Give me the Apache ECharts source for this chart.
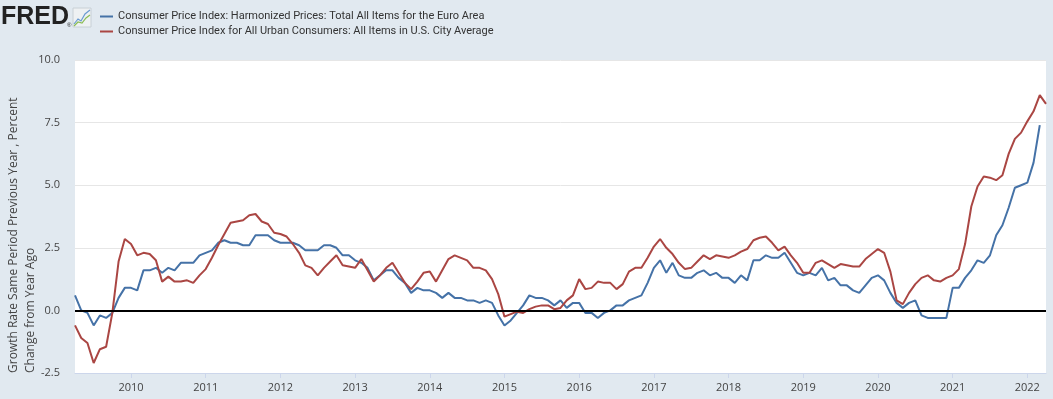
<!DOCTYPE html>
<html>
<head>
<meta charset="utf-8">
<script src="https://cdn.jsdelivr.net/npm/echarts@6/dist/echarts.min.js"></script>
<style>
  html, body { margin: 0; padding: 0; background: #e1e9f0; }
  #main { width: 1053px; height: 399px; }
</style>
</head>
<body>
<div id="main"></div>
<script>
// monthly data, first value = April 2009
var startYear = 2009
var startMonth = 4

// HICP euro area, % change from year ago
var euroArea = [
  0.6, 0.0, -0.1, -0.6, -0.2, -0.3, -0.1, 0.5, 0.9,
  0.9, 0.8, 1.6, 1.6, 1.7, 1.5, 1.7, 1.6, 1.9, 1.9, 1.9, 2.2,
  2.3, 2.4, 2.7, 2.8, 2.7, 2.7, 2.6, 2.6, 3.0, 3.0, 3.0, 2.8,
  2.7, 2.7, 2.7, 2.6, 2.4, 2.4, 2.4, 2.6, 2.6, 2.5, 2.2, 2.2,
  2.0, 1.9, 1.7, 1.2, 1.4, 1.6, 1.6, 1.3, 1.1, 0.7, 0.9, 0.8,
  0.8, 0.7, 0.5, 0.7, 0.5, 0.5, 0.4, 0.4, 0.3, 0.4, 0.3, -0.2,
  -0.6, -0.4, -0.1, 0.2, 0.6, 0.5, 0.5, 0.4, 0.2, 0.4, 0.1, 0.3,
  0.3, -0.1, -0.1, -0.3, -0.1, 0.0, 0.2, 0.2, 0.4, 0.5, 0.6, 1.1,
  1.7, 2.0, 1.5, 1.9, 1.4, 1.3, 1.3, 1.5, 1.6, 1.4, 1.5, 1.3,
  1.3, 1.1, 1.4, 1.2, 2.0, 2.0, 2.2, 2.1, 2.1, 2.3, 1.9, 1.5,
  1.4, 1.5, 1.4, 1.7, 1.2, 1.3, 1.0, 1.0, 0.8, 0.7, 1.0, 1.3,
  1.4, 1.2, 0.7, 0.3, 0.1, 0.3, 0.4, -0.2, -0.3, -0.3, -0.3, -0.3,
  0.9, 0.9, 1.3, 1.6, 2.0, 1.9, 2.2, 3.0, 3.4, 4.1, 4.9, 5.0,
  5.1, 5.9, 7.4
]

// CPI-U U.S. city average, % change from year ago
var usCityAvg = [
  -0.6, -1.1, -1.3, -2.1, -1.55, -1.45, -0.1, 1.95, 2.85,
  2.65, 2.2, 2.3, 2.25, 2.0, 1.15, 1.35, 1.15, 1.15, 1.2, 1.1, 1.4,
  1.65, 2.1, 2.6, 3.05, 3.5, 3.55, 3.6, 3.8, 3.85, 3.55, 3.45, 3.1,
  3.05, 2.95, 2.65, 2.3, 1.8, 1.7, 1.4, 1.7, 1.95, 2.2, 1.8, 1.75,
  1.7, 2.05, 1.6, 1.15, 1.4, 1.7, 1.9, 1.5, 1.1, 0.85, 1.15, 1.5,
  1.55, 1.15, 1.6, 2.05, 2.2, 2.1, 2.0, 1.7, 1.7, 1.6, 1.25, 0.65,
  -0.25, -0.15, -0.05, -0.1, 0.05, 0.15, 0.2, 0.2, 0.05, 0.1, 0.4, 0.6,
  1.25, 0.85, 0.9, 1.15, 1.1, 1.1, 0.85, 1.05, 1.55, 1.7, 1.7, 2.1,
  2.55, 2.85, 2.5, 2.25, 1.9, 1.65, 1.7, 1.95, 2.2, 2.05, 2.2, 2.15,
  2.1, 2.2, 2.35, 2.45, 2.8, 2.9, 2.95, 2.7, 2.4, 2.55, 2.2, 1.9,
  1.5, 1.5, 1.9, 2.0, 1.85, 1.7, 1.85, 1.8, 1.75, 1.75, 2.05, 2.25,
  2.45, 2.3, 1.55, 0.4, 0.25, 0.7, 1.05, 1.3, 1.4, 1.2, 1.15, 1.3,
  1.4, 1.65, 2.65, 4.15, 4.95, 5.35, 5.3, 5.2, 5.4, 6.25, 6.85, 7.1,
  7.55, 7.95, 8.6, 8.25
]

var yearTicks = [2010, 2011, 2012, 2013, 2014, 2015, 2016, 2017, 2018, 2019, 2020, 2021, 2022]

function toPairs(vals) {
  return vals.map(function (v, i) {
    return [startYear + (startMonth - 1 + i) / 12, v]
  })
}

var chart = echarts.init(document.getElementById('main'))
chart.setOption({
  animation: false,
  backgroundColor: '#e1e9f0',
  textStyle: { fontFamily: 'Open Sans' },
  legend: {
    orient: 'vertical',
    left: 100,
    top: 11,
    padding: 0,
    icon: 'rect',
    itemWidth: 13,
    itemHeight: 2,
    itemGap: 4,
    textStyle: { fontSize: 11, color: '#333', fontFamily: 'Roboto' },
    data: [
      'Consumer Price Index: Harmonized Prices: Total All Items for the Euro Area',
      'Consumer Price Index for All Urban Consumers: All Items in U.S. City Average'
    ]
  },
  graphic: [
    { type: 'text', left: 1, top: 5, style: { text: 'FRED', font: 'bold 25px "Liberation Sans"', fill: '#222' } },
    { type: 'text', left: 67, top: 22, style: { text: '®', font: '6px "Liberation Sans"', fill: '#222' } },
    { type: 'rect', shape: { x: 73, y: 8, width: 18, height: 19 }, style: { fill: '#eef1f3', stroke: '#c8d0d6', lineWidth: 1 } },
    { type: 'polyline', shape: { points: [[74, 24], [78, 19], [81, 21], [85, 14], [90, 10]] }, style: { stroke: '#6b9bd1', lineWidth: 1.2, fill: null } },
    { type: 'polyline', shape: { points: [[74, 26], [78, 22], [82, 23], [86, 18], [90, 15]] }, style: { stroke: '#8bbd54', lineWidth: 1.2, fill: null } },
    { type: 'text', x: 14, y: 373, rotation: Math.PI / 2,
      style: { text: 'Growth Rate Same Period Previous Year , Percent', font: '12px "Open Sans"', fill: '#444', align: 'left', verticalAlign: 'middle' } },
    { type: 'text', x: 31, y: 373, rotation: Math.PI / 2,
      style: { text: 'Change from Year Ago', font: '12px "Open Sans"', fill: '#444', align: 'left', verticalAlign: 'middle' } }
  ],
  grid: {
    show: true,
    backgroundColor: '#fff',
    borderWidth: 0,
    left: 75,
    right: 7,
    top: 60,
    bottom: 26
  },
  xAxis: {
    type: 'value',
    min: 2009.25,
    max: 2022.25,
    axisLine: { onZero: false, lineStyle: { color: '#ccd6eb', width: 1 } },
    axisTick: { customValues: yearTicks, length: 5, lineStyle: { color: '#ccd6eb' } },
    axisLabel: {
      customValues: yearTicks,
      margin: 9,
      fontSize: 11,
      color: '#444',
      formatter: function (v) { return String(Math.round(v)) }
    },
    splitLine: { show: false }
  },
  yAxis: {
    type: 'value',
    min: -2.5,
    max: 10,
    interval: 2.5,
    axisLine: { show: false },
    axisTick: { show: false },
    axisLabel: {
      margin: 15,
      fontSize: 11,
      color: '#444',
      formatter: function (v) { return v.toFixed(1) }
    },
    splitLine: { lineStyle: { color: '#e6e6e6', width: 1 } }
  },
  series: [
    {
      name: 'Consumer Price Index: Harmonized Prices: Total All Items for the Euro Area',
      type: 'line',
      data: toPairs(euroArea),
      showSymbol: false,
      color: '#4572a7',
      lineStyle: { width: 2, color: '#4572a7' }
    },
    {
      name: 'Consumer Price Index for All Urban Consumers: All Items in U.S. City Average',
      type: 'line',
      data: toPairs(usCityAvg),
      showSymbol: false,
      color: '#aa4643',
      lineStyle: { width: 2, color: '#aa4643' },
      markLine: {
        silent: true,
        symbol: ['none', 'none'],
        label: { show: false },
        lineStyle: { color: '#000', width: 2, type: 'solid' },
        data: [{ yAxis: 0 }]
      }
    }
  ]
})
</script>
</body>
</html>
